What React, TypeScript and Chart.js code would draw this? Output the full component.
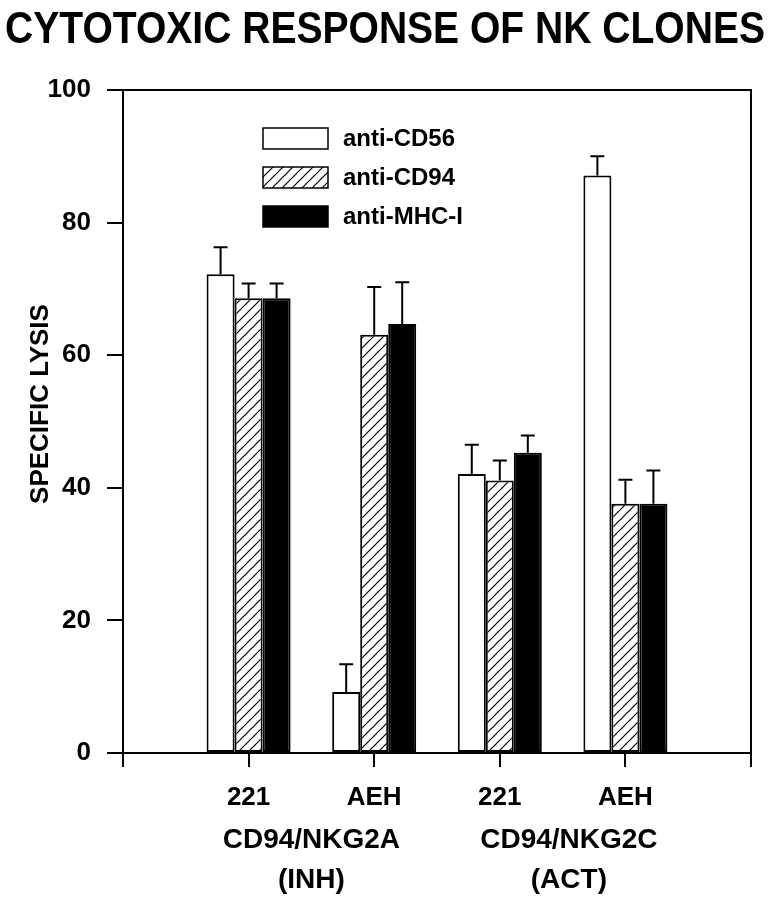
import React, { useEffect, useRef } from "react";
import { Chart, registerables } from "chart.js";

Chart.register(...registerables);

const categories = ["221", "AEH", "221", "AEH"];
const groupLabels = [
  { at: 1.5, lines: ["CD94/NKG2A", "(INH)"] },
  { at: 3.55, lines: ["CD94/NKG2C", "(ACT)"] },
];
const seriesNames = ["anti-CD56", "anti-CD94", "anti-MHC-I"];
const cd56Values = [72.2, 9.2, 42.1, 87.1];
const cd56Errors = [4.1, 4.2, 4.4, 2.9];
const cd94Values = [68.6, 63.1, 41.1, 37.6];
const cd94Errors = [2.2, 7.2, 3.0, 3.6];
const mhcValues = [68.6, 64.7, 45.3, 37.6];
const mhcErrors = [2.2, 6.3, 2.6, 5.0];
const yTicks = [0, 20, 40, 60, 80, 100];
const xTicks = [0, 1, 2, 3, 4, 5];

const FONT = "'Liberation Sans', Arial, Helvetica, sans-serif";

function makeHatch(): CanvasPattern | string {
  const c = document.createElement("canvas");
  const s = 10;
  c.width = s;
  c.height = s;
  const g = c.getContext("2d");
  if (!g) return "#fff";
  g.fillStyle = "#fff";
  g.fillRect(0, 0, s, s);
  g.strokeStyle = "#000";
  g.lineWidth = 1.2;
  g.beginPath();
  g.moveTo(-2, s + 2);
  g.lineTo(s + 2, -2);
  g.moveTo(-2, 2);
  g.lineTo(2, -2);
  g.moveTo(s - 2, s + 2);
  g.lineTo(s + 2, s - 2);
  g.stroke();
  const p = g.createPattern(c, "repeat");
  return p || "#fff";
}

export default function App() {
  const ref = useRef<HTMLCanvasElement | null>(null);

  useEffect(() => {
    if (!ref.current) return;
    const hatch = makeHatch();
    const errs = [cd56Errors, cd94Errors, mhcErrors];

    const toPts = (vals: number[]) => vals.map((v, i) => ({ x: i + 1, y: v }));

    const framePlugin = {
      id: "frameAndText",
      afterDatasetsDraw(chart: any) {
        const ctx = chart.ctx;
        const ys = chart.scales.y;
        ctx.save();
        ctx.strokeStyle = "#000";
        ctx.lineWidth = 2;
        chart.data.datasets.forEach((ds: any, di: number) => {
          const meta = chart.getDatasetMeta(di);
          meta.data.forEach((bar: any, i: number) => {
            const v = ds.data[i].y;
            const top = ys.getPixelForValue(v + errs[di][i]);
            const base = ys.getPixelForValue(v);
            const x = bar.x;
            ctx.beginPath();
            ctx.moveTo(x, base);
            ctx.lineTo(x, top);
            ctx.moveTo(x - 7, top);
            ctx.lineTo(x + 7, top);
            ctx.stroke();
          });
        });
        ctx.restore();
      },
      afterDraw(chart: any) {
        const ctx = chart.ctx;
        const a = chart.chartArea;
        const xs = chart.scales.x;
        ctx.save();
        ctx.strokeStyle = "#000";
        ctx.lineWidth = 2;
        ctx.strokeRect(a.left, a.top, a.right - a.left, a.bottom - a.top);

        // title (slightly condensed to fit the width)
        ctx.fillStyle = "#000";
        ctx.textAlign = "center";
        ctx.textBaseline = "alphabetic";
        ctx.font = `bold 44px ${FONT}`;
        const title = "CYTOTOXIC RESPONSE OF NK CLONES";
        const w = ctx.measureText(title).width;
        const sx = Math.min(1, 760 / w);
        ctx.save();
        ctx.translate(385, 43);
        ctx.scale(sx, 1);
        ctx.fillText(title, 0, 0);
        ctx.restore();

        // y title
        ctx.save();
        ctx.translate(41, 404);
        ctx.rotate(-Math.PI / 2);
        ctx.font = `bold 26px ${FONT}`;
        ctx.textBaseline = "middle";
        ctx.fillText("SPECIFIC LYSIS", 0, 0);
        ctx.restore();

        // group labels
        ctx.font = `bold 28px ${FONT}`;
        ctx.textBaseline = "alphabetic";
        groupLabels.forEach((g) => {
          const x = xs.getPixelForValue(g.at);
          ctx.fillText(g.lines[0], x, 848);
          ctx.fillText(g.lines[1], x, 888);
        });

        // legend
        const fills = ["#fff", hatch, "#000"];
        ctx.textAlign = "left";
        ctx.textBaseline = "middle";
        ctx.font = `bold 24px ${FONT}`;
        seriesNames.forEach((name, i) => {
          const bx = 263;
          const by = 128 + i * 39;
          ctx.fillStyle = fills[i] as any;
          ctx.fillRect(bx, by, 65, 21);
          ctx.lineWidth = 1.5;
          ctx.strokeStyle = "#000";
          ctx.strokeRect(bx, by, 65, 21);
          ctx.fillStyle = "#000";
          ctx.fillText(name, 343, by + 11);
        });
        ctx.restore();
      },
    };

    const chart = new Chart(ref.current, {
      type: "bar",
      data: {
        datasets: [
          {
            label: seriesNames[0],
            data: toPts(cd56Values),
            backgroundColor: "#ffffff",
            borderColor: "#000",
            borderWidth: 2,
            borderSkipped: false,
          },
          {
            label: seriesNames[1],
            data: toPts(cd94Values),
            backgroundColor: hatch as any,
            borderColor: "#000",
            borderWidth: 2,
            borderSkipped: false,
          },
          {
            label: seriesNames[2],
            data: toPts(mhcValues),
            backgroundColor: "#000",
            borderColor: "#000",
            borderWidth: 2,
            borderSkipped: false,
          },
        ],
      },
      options: {
        animation: false,
        responsive: false,
        maintainAspectRatio: false,
        devicePixelRatio: 1,
        datasets: {
          bar: { categoryPercentage: 0.669, barPercentage: 1.0, grouped: true },
        },
        layout: { padding: { top: 90, right: 20, left: 0, bottom: 0 } },
        plugins: {
          legend: { display: false },
          title: { display: false },
          tooltip: { enabled: false },
        },
        scales: {
          x: {
            type: "linear",
            min: 0,
            max: 5,
            offset: false,
            afterFit: (s: any) => {
              s.height = 147;
            },
            afterBuildTicks: (s: any) => {
              s.ticks = xTicks.map((v) => ({ value: v }));
            },
            ticks: {
              stepSize: 1,
              autoSkip: false,
              maxRotation: 0,
              padding: 15,
              color: "#000",
              font: { family: FONT, size: 26, weight: "bold" },
              callback: (v: any) => {
                const i = Math.round(Number(v)) - 1;
                return i >= 0 && i < categories.length ? categories[i] : "";
              },
            },
            grid: {
              offset: false,
              drawOnChartArea: false,
              drawTicks: true,
              tickLength: 14,
              tickWidth: 2,
              tickColor: "#000",
              color: "#000",
              lineWidth: 2,
            },
            border: { display: true, color: "#000", width: 2 },
          },
          y: {
            min: 0,
            max: 100,
            afterFit: (s: any) => {
              s.width = 123;
            },
            afterBuildTicks: (s: any) => {
              s.ticks = yTicks.map((v) => ({ value: v }));
            },
            ticks: {
              stepSize: 20,
              padding: 16,
              color: "#000",
              font: { family: FONT, size: 26, weight: "bold" },
            },
            grid: {
              drawOnChartArea: false,
              drawTicks: true,
              tickLength: 16,
              tickWidth: 2,
              tickColor: "#000",
              color: "#000",
              lineWidth: 2,
            },
            border: { display: true, color: "#000", width: 2 },
          },
        },
      } as any,
      plugins: [framePlugin],
    });
    return () => chart.destroy();
  }, []);

  return (
    <div style={{ position: "absolute", left: 0, top: 0, width: 771, height: 900, background: "#fff" }}>
      <canvas ref={ref} width={771} height={900} style={{ display: "block", width: 771, height: 900 }} />
    </div>
  );
}
